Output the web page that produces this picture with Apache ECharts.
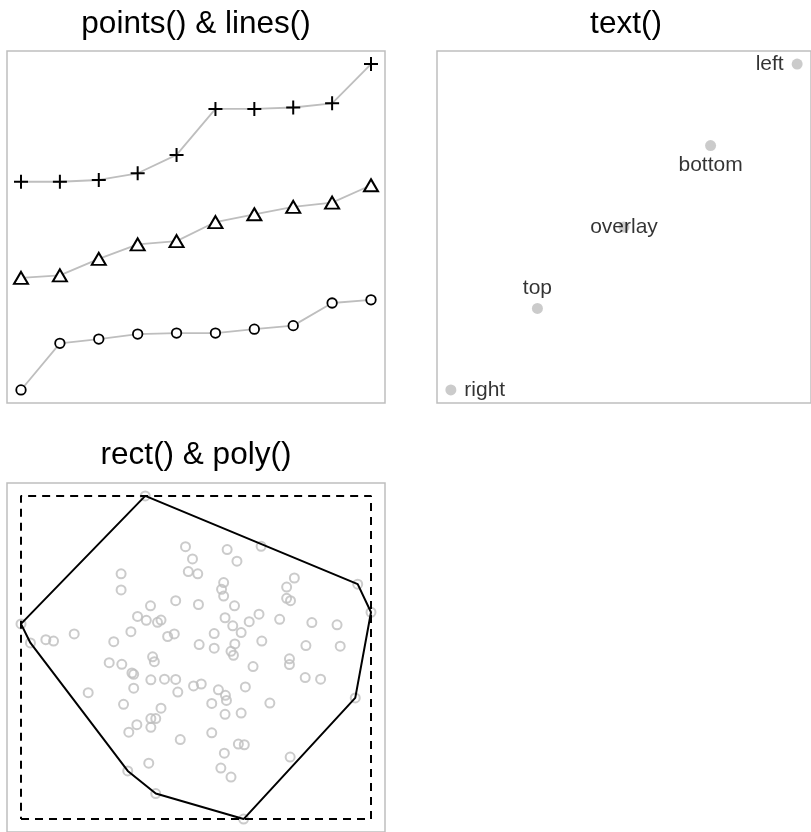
<!DOCTYPE html>
<html>
<head>
<meta charset="utf-8">
<title>base graphics primitives</title>
<script src="https://cdn.jsdelivr.net/npm/echarts@6/dist/echarts.min.js"></script>
<style>
html, body { margin: 0; padding: 0; background: #fff; }
#main { width: 811px; height: 832px; }
</style>
</head>
<body>
<div id="main"></div>
<script>
// titles of the three panels
var panelTitles = ['points() & lines()', 'text()', 'rect() & poly()'];

// panel 1 : points() & lines()
var lineX = [1, 2, 3, 4, 5, 6, 7, 8, 9, 10];
var circleY = [0.40, 1.72, 1.84, 1.98, 2.01, 2.01, 2.12, 2.22, 2.86, 2.95];
var triangleY = [3.57, 3.64, 4.11, 4.52, 4.61, 5.15, 5.37, 5.58, 5.70, 6.19];
var plusY = [6.29, 6.29, 6.34, 6.53, 7.05, 8.35, 8.35, 8.39, 8.51, 9.62];

// panel 2 : text()
var textX = [1, 2, 3, 4, 5];
var textY = [1, 2, 3, 4, 5];
var textLabels = ['right', 'top', 'overlay', 'bottom', 'left'];
var textPos = ['right', 'top', 'inside', 'bottom', 'left'];

// panel 3 : rect() & poly()
var cloudX = [35.5, 47.0, 58.9, 68.6, 49.0, 61.7, 28.6, 47.8, 50.5, 78.1,
  57.9, 96.2, 75.9, 57.3, 28.6, 57.9, 75.9, 77.0, 44.2, 50.7,
  61.0, 37.0, 100.0, 68.0, 33.3, 58.3, 73.9, 35.8, 40.0, 39.0,
  65.2, 83.1, 60.5, 90.3, 0.0, 31.4, 62.9, 15.2, 55.2, 43.8,
  41.9, 7.1, 9.3, 2.7, 26.5, 68.8, 50.9, 61.1, 55.2, 81.4,
  91.2, 60.0, 60.7, 37.6, 38.1, 76.7, 76.7, 25.2, 28.8, 66.3,
  31.7, 32.2, 37.1, 41.0, 44.2, 81.2, 85.6, 49.3, 51.5, 32.2,
  64.1, 56.4, 44.8, 19.2, 58.4, 58.7, 95.5, 29.3, 54.5, 71.1,
  40.0, 58.3, 62.9, 37.1, 38.5, 37.1, 33.1, 30.8, 54.5, 45.5,
  62.1, 63.8, 58.1, 76.9, 36.5, 57.1, 30.5, 60.0, 38.5, 63.6];
var cloudY = [100.0, 84.3, 83.4, 84.4, 80.5, 79.8, 75.9, 76.6, 75.9, 74.6,
  73.2, 72.7, 71.8, 71.1, 70.9, 69.0, 68.3, 67.6, 67.6, 66.4,
  66.0, 66.0, 64.0, 63.4, 62.7, 62.3, 61.8, 61.5, 61.6, 60.9,
  61.1, 60.8, 59.8, 60.1, 60.4, 58.0, 57.7, 57.3, 57.4, 57.3,
  56.5, 55.5, 55.1, 54.5, 54.9, 55.1, 54.0, 54.2, 52.9, 53.7,
  53.5, 51.9, 50.7, 50.2, 48.7, 49.6, 47.8, 48.4, 47.9, 47.2,
  45.2, 44.8, 43.1, 43.3, 43.2, 43.8, 43.3, 41.2, 41.8, 40.5,
  40.9, 40.0, 39.3, 39.1, 38.3, 36.7, 37.5, 35.5, 35.8, 35.9,
  34.3, 32.4, 32.8, 31.1, 31.1, 28.4, 29.2, 26.9, 26.7, 24.6,
  23.2, 23.0, 20.4, 19.2, 17.3, 15.8, 14.9, 13.0, 7.9, 0.0];

var FONT = 'Liberation Sans';
var GREY = '#bebebe';

// axis range like R: data range plus 4% each side
function pad(arr) {
  var lo = Math.min.apply(null, arr), hi = Math.max.apply(null, arr);
  var d = (hi - lo) * 0.04;
  return [lo - d, hi + d];
}

function zip(xs, ys) {
  var out = [];
  for (var i = 0; i < xs.length; i++) out.push([xs[i], ys[i]]);
  return out;
}

// convex hull (monotone chain), closed
function hull(pts) {
  var p = pts.slice().sort(function (a, b) { return a[0] - b[0] || a[1] - b[1]; });
  function cross(o, a, b) { return (a[0] - o[0]) * (b[1] - o[1]) - (a[1] - o[1]) * (b[0] - o[0]); }
  var lower = [], upper = [];
  for (var i = 0; i < p.length; i++) {
    while (lower.length >= 2 && cross(lower[lower.length - 2], lower[lower.length - 1], p[i]) <= 0) lower.pop();
    lower.push(p[i]);
  }
  for (var j = p.length - 1; j >= 0; j--) {
    while (upper.length >= 2 && cross(upper[upper.length - 2], upper[upper.length - 1], p[j]) <= 0) upper.pop();
    upper.push(p[j]);
  }
  lower.pop(); upper.pop();
  var h = lower.concat(upper);
  h.push(h[0]);
  return h;
}

var allLineY = circleY.concat(triangleY, plusY);
var x1 = pad(lineX), y1 = pad(allLineY);
var x2 = pad(textX), y2 = pad(textY);
var x3 = pad(cloudX), y3 = pad(cloudY);

var cloud = zip(cloudX, cloudY);
var xmin = Math.min.apply(null, cloudX), xmax = Math.max.apply(null, cloudX);
var ymin = Math.min.apply(null, cloudY), ymax = Math.max.apply(null, cloudY);
var rectPts = [[xmin, ymin], [xmax, ymin], [xmax, ymax], [xmin, ymax], [xmin, ymin]];

var myChart = echarts.init(document.getElementById('main'));

function grid(left, top) {
  return { left: left, top: top, width: 378, height: 352, show: true,
    borderColor: GREY, borderWidth: 1.5, backgroundColor: 'transparent' };
}
function axis(idx, r) {
  return { type: 'value', gridIndex: idx, min: r[0], max: r[1], show: false };
}

function markerSeries(ys, symbol, size, bw) {
  return {
    type: 'line', xAxisIndex: 0, yAxisIndex: 0,
    data: zip(lineX, ys),
    symbol: symbol, symbolSize: size, showAllSymbol: true,
    lineStyle: { color: GREY, width: 1.8 },
    itemStyle: { color: '#fff', borderColor: '#000', borderWidth: bw },
    z: 3
  };
}

var textData = [];
for (var i = 0; i < textX.length; i++) {
  textData.push({
    value: [textX[i], textY[i]],
    label: {
      show: true, formatter: textLabels[i], position: textPos[i],
      distance: (textPos[i] == 'left' || textPos[i] == 'right') ? 8 : 4,
      fontFamily: FONT, fontSize: 21, color: '#000', textBorderWidth: 0
    }
  });
}

var titleX = [196, 626, 196];
var titleY = [24, 24, 455];

var plusSeries = markerSeries(plusY, 'path://M0,7H14M7,0V14', 14, 2);
plusSeries.itemStyle = { color: 'none', borderColor: '#000', borderWidth: 2 };

myChart.setOption({
  animation: false,
  backgroundColor: '#fff',
  graphic: panelTitles.map(function (t, k) {
    return { type: 'text', x: titleX[k], y: titleY[k],
      style: { text: t, align: 'center', verticalAlign: 'middle',
        font: '31.5px "' + FONT + '"', fill: '#000' } };
  }),
  grid: [grid(7, 51), grid(437, 51), grid(7, 483)],
  xAxis: [axis(0, x1), axis(1, x2), axis(2, x3)],
  yAxis: [axis(0, y1), axis(1, y2), axis(2, y3)],
  series: [
    markerSeries(circleY, 'circle', 9.5, 1.8),
    markerSeries(triangleY, 'triangle', [14, 12], 2),
    plusSeries,
    {
      type: 'scatter', xAxisIndex: 1, yAxisIndex: 1,
      data: textData, symbol: 'circle', symbolSize: 11,
      itemStyle: { color: GREY }
    },
    {
      type: 'scatter', xAxisIndex: 2, yAxisIndex: 2,
      data: cloud, symbol: 'circle', symbolSize: 9,
      itemStyle: { color: 'transparent', borderColor: GREY, borderWidth: 2 }
    },
    {
      type: 'line', xAxisIndex: 2, yAxisIndex: 2,
      data: rectPts, symbol: 'none',
      lineStyle: { color: '#000', width: 2, type: [8, 6] }
    },
    {
      type: 'line', xAxisIndex: 2, yAxisIndex: 2,
      data: hull(cloud), symbol: 'none',
      lineStyle: { color: '#000', width: 2 }
    }
  ]
});
</script>
</body>
</html>
